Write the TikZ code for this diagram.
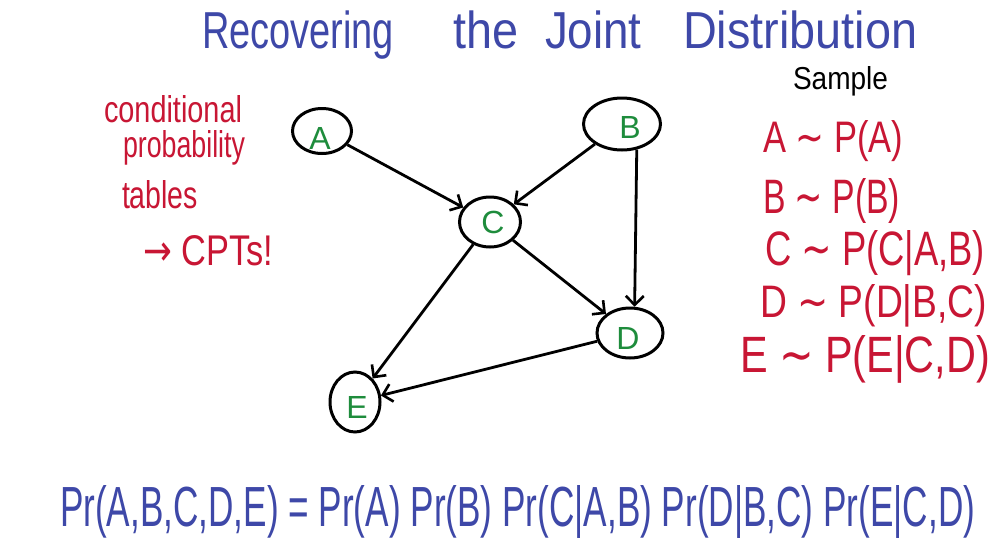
\documentclass[tikz,border=0pt]{standalone}
\usepackage{fontspec}
\setmainfont{Liberation Sans}
\newfontfamily\dvs{DejaVu Sans}
\usetikzlibrary{arrows.meta,shapes.geometric}
\definecolor{bink}{RGB}{62,72,168}
\definecolor{rink}{RGB}{200,22,52}
\definecolor{gink}{RGB}{30,140,60}
\newcommand{\fitt}[3]{\resizebox{#1pt}{#2pt}{#3}}
\newcommand{\sx}[2]{\scalebox{#1}[1]{#2}}
\begin{document}
\begin{tikzpicture}[x=1pt,y=-1pt,
  txt/.style={anchor=base west,inner sep=0pt,outer sep=0pt},
  ttl/.style={txt,text=bink,font=\fontsize{52}{52}\selectfont},
  lbl/.style={text=gink,font=\fontsize{32}{32}\selectfont,inner sep=0pt},
  bnode/.style={draw=black,line width=3pt,ellipse,inner sep=0pt},
  edge/.style={draw=black,line width=2.8pt,-{Straight Barb[length=9pt,width=18pt,line width=2.6pt]}}]
\fill[white] (0,0) rectangle (996,541);
\useasboundingbox (0,0) rectangle (996,541);

% title
\node[ttl] (t1) at (202,48) {\sx{0.73}{Recovering}};
\node[ttl] (t2) at (453,48) {\sx{0.9}{the}};
\node[ttl] (t3) at (545,48) {\sx{0.88}{Joint}};
\node[ttl] (t4) at (683,48) {\sx{0.9}{Distribution}};

% left note
\node[txt,text=rink] (n1) at (104,122) {\fitt{138}{27}{conditional}};
\node[txt,text=rink] (n2) at (123,157) {\fitt{122}{27}{probability}};
\node[txt,text=rink] (n3) at (122,208) {\fitt{76}{28}{tables}};
\node[txt,text=rink] (n4) at (143,265) {\fitt{130}{30}{{\dvs →} CPTs!}};

% sample
\node[txt,text=black] (s0) at (793,89) {\fitt{95}{23}{Sample}};
\node[txt,text=rink] (s1) at (763,152) {\fitt{140}{32}{A {\dvs ∼} P(A)}};
\node[txt,text=rink] (s2) at (763,213) {\fitt{137}{35}{B {\dvs ∼} P(B)}};
\node[txt,text=rink] (s3) at (765,265) {\fitt{220}{35}{C {\dvs ∼} P(C|A,B)}};
\node[txt,text=rink] (s4) at (760,317) {\fitt{227}{33}{D {\dvs ∼} P(D|B,C)}};
\node[txt,text=rink] (s5) at (740,372) {\fitt{250}{37}{E {\dvs ∼} P(E|C,D)}};

% bottom equation
\node[txt,text=bink] (eq) at (60,526) {\fitt{915}{41}{Pr(A,B,C,D,E) = Pr(A) Pr(B) Pr(C|A,B) Pr(D|B,C) Pr(E|C,D)}};

% graph
\node[bnode,minimum width=59pt,minimum height=45pt] (A) at (322,131) {};
\node[bnode,minimum width=77pt,minimum height=52pt] (B) at (622,124) {};
\node[bnode,minimum width=61pt,minimum height=50pt] (C) at (490,222) {};
\node[bnode,minimum width=66pt,minimum height=50pt] (D) at (630,333) {};
\node[bnode,minimum width=50pt,minimum height=60pt] (E) at (355,402) {};
\node[lbl] (la) at (320,138) {A};
\node[lbl] (lb) at (630,127) {B};
\node[lbl] (lc) at (493,222) {C};
\node[lbl] (ld) at (628,338) {D};
\node[lbl] (le) at (357,407) {E};

\draw[edge] (A) -- (C);
\draw[edge] (B) -- (C);
\draw[edge] (B.300) -- (D.80);
\draw[edge] (C) -- (D);
\draw[edge] (C) -- (E);
\draw[edge] (D) -- (E);
\end{tikzpicture}
\end{document}
